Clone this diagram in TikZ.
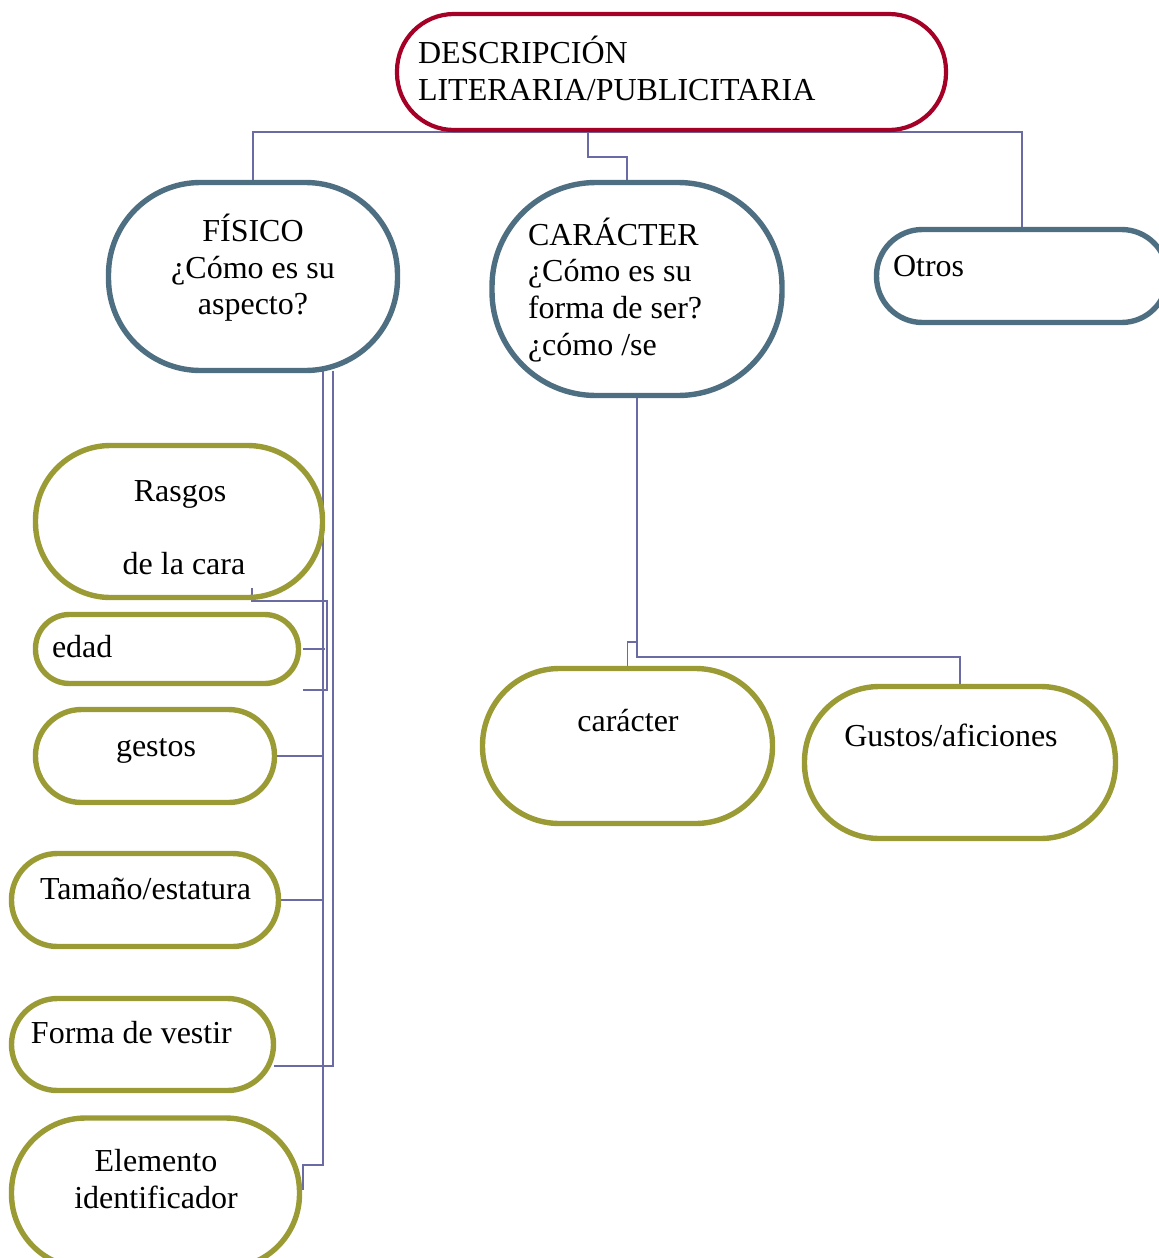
\documentclass[tikz,border=0pt]{standalone}
\usepackage{fontspec}
\setmainfont{Liberation Serif}
\pgfdeclarelayer{background}
\pgfsetlayers{background,main}
\definecolor{crim}{RGB}{165,0,38}
\definecolor{slate}{RGB}{78,110,130}
\definecolor{olive}{RGB}{155,155,53}
\definecolor{connc}{RGB}{107,107,163}
\begin{document}
\begin{tikzpicture}[x=0.5pt,y=-0.5pt,
  shp/.style={rectangle,inner sep=0pt,outer sep=0pt},
  rootbox/.style={shp,draw=crim,line width=2.1pt},
  bluebox/.style={shp,draw=slate,line width=2.7pt},
  olivebox/.style={shp,draw=olive,line width=2.7pt},
  conn/.style={draw=connc,line width=0.85pt},
  lbl/.style={inner sep=0pt,outer sep=0pt,font=\fontsize{16}{18.5}\selectfont,anchor=base},
  lblw/.style={lbl,anchor=base west}]
\useasboundingbox (0,0) rectangle (1159,1258);
% shapes
\node[rootbox,minimum width=274.5pt,minimum height=58pt,rounded corners=28.5pt] (root) at (671.5,72) {};
\node[bluebox,minimum width=144.5pt,minimum height=94pt,rounded corners=46pt] (fis) at (253,276.5) {};
\node[bluebox,minimum width=145pt,minimum height=106.5pt,rounded corners=52pt] (car) at (637,289) {};
\node[bluebox,minimum width=145.5pt,minimum height=46.5pt,rounded corners=23pt] (otros) at (1022,276) {};
\node[olivebox,minimum width=143.5pt,minimum height=76pt,rounded corners=37.5pt] (rasgos) at (179,521.5) {};
\node[olivebox,minimum width=131.5pt,minimum height=34.5pt,rounded corners=17pt] (edad) at (167,649) {};
\node[olivebox,minimum width=119.5pt,minimum height=46.5pt,rounded corners=23pt] (gestos) at (155,756) {};
\node[olivebox,minimum width=133.5pt,minimum height=46.5pt,rounded corners=23pt] (tam) at (145,900) {};
\node[olivebox,minimum width=131pt,minimum height=46pt,rounded corners=23pt] (forma) at (142.5,1044.5) {};
\node[olivebox,minimum width=144pt,minimum height=75pt,rounded corners=37pt] (elem) at (155.5,1193) {};
\node[olivebox,minimum width=145pt,minimum height=77.5pt,rounded corners=38.5pt] (cart) at (627.5,746) {};
\node[olivebox,minimum width=155.5pt,minimum height=76pt,rounded corners=37.5pt] (gustos) at (960,762.5) {};
% labels
\node[lblw] (rootT1) at (418,63) {DESCRIPCIÓN};
\node[lblw] (rootT2) at (418,100) {LITERARIA/PUBLICITARIA};
\node[lbl] (fisT1) at (253,241) {FÍSICO};
\node[lbl] (fisT2) at (253,278) {¿Cómo es su};
\node[lbl] (fisT3) at (253,314) {aspecto?};
\node[lblw] (carT1) at (528,245) {CARÁCTER};
\node[lblw] (carT2) at (528,281) {¿Cómo es su};
\node[lblw] (carT3) at (528,318) {forma de ser?};
\node[lblw] (carT4) at (528,355) {¿cómo /se};
\node[lblw] (otrosT) at (893,276) {Otros};
\node[lbl] (rasgosT1) at (180,501) {Rasgos};
\node[lbl] (rasgosT2) at (184,574) {de la cara};
\node[lblw] (edadT) at (52,657) {edad};
\node[lbl] (gestosT) at (156,756) {gestos};
\node[lblw] (tamT) at (40,899) {Tamaño/estatura};
\node[lblw] (formaT) at (31,1043) {Forma de vestir};
\node[lbl] (elemT1) at (156,1171) {Elemento};
\node[lbl] (elemT2) at (156,1208) {identificador};
\node[lbl] (cartT) at (628,731) {carácter};
\node[lbl] (gustosT) at (951,746) {Gustos/aficiones};
% connectors
\begin{pgfonlayer}{background}
\coordinate (busA) at ([xshift=35pt]fis.south);
\coordinate (busB) at ([xshift=40pt]fis.south);
\draw[conn] ([yshift=-1pt]fis.north) |- ([yshift=-1pt]root.south) -| ([yshift=1pt]otros.north);
\draw[conn] ([xshift=-41.75pt]root.south) -- ++(0,27) -| ([xshift=-5pt]car.north);
\draw[conn] (busA) |- ([shift={(1.75pt,14pt)}]elem.east) -- ([shift={(1.75pt,1.5pt)}]elem.east);
\draw[conn] (busB) |- ([yshift=-10.75pt]forma.east);
\draw[conn] (gestos.east) -- (gestos.east -| busA);
\draw[conn] (tam.east) -- (tam.east -| busA);
\draw[conn] ([xshift=2pt]edad.east) -- ([xshift=1pt]edad.east -| busA);
\draw[conn] ([shift={(36.5pt,4.75pt)}]rasgos.south) -- ++(0,13) -| ([shift={(14.25pt,-20.5pt)}]edad.east) -- ([shift={(2.25pt,-20.5pt)}]edad.east);
\draw[conn] (car.south) -- ++(0,261.5) -| (gustos.north);
\draw[conn] ([yshift=-123.25pt]car.south) -| (cart.north);
\end{pgfonlayer}
\end{tikzpicture}
\end{document}
